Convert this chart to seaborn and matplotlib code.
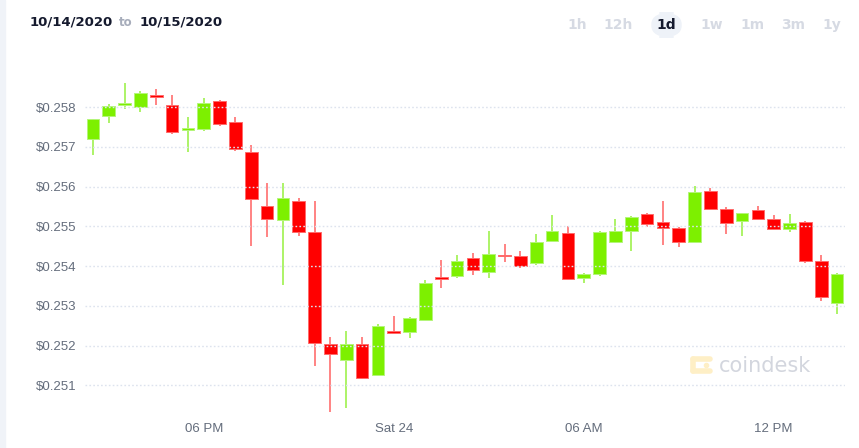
import numpy as np
import pandas as pd
import seaborn as sns
import matplotlib.pyplot as plt
from matplotlib.patches import FancyBboxPatch, Rectangle
from matplotlib.lines import Line2D

# 30-minute candles
opens = [0.25719, 0.25779, 0.25805, 0.25801, 0.25831, 0.25806, 0.25743, 0.25744,
         0.25816, 0.25762, 0.25688, 0.25551, 0.25516, 0.25565, 0.25487, 0.25204,
         0.25164, 0.25204, 0.25126, 0.25238, 0.25234, 0.25265, 0.25371, 0.25375,
         0.25421, 0.25385, 0.25429, 0.25426, 0.25407, 0.25464, 0.25484, 0.25370,
         0.25381, 0.25462, 0.25489, 0.25531, 0.25510, 0.25495, 0.25460, 0.25589,
         0.25543, 0.25514, 0.25541, 0.25520, 0.25494, 0.25512, 0.25412, 0.25308]
closes = [0.25770, 0.25804, 0.25810, 0.25836, 0.25826, 0.25738, 0.25745, 0.25811,
          0.25757, 0.25694, 0.25569, 0.25518, 0.25571, 0.25485, 0.25206, 0.25178,
          0.25204, 0.25118, 0.25250, 0.25233, 0.25269, 0.25357, 0.25369, 0.25414,
          0.25391, 0.25431, 0.25425, 0.25401, 0.25460, 0.25488, 0.25367, 0.25380,
          0.25485, 0.25488, 0.25523, 0.25507, 0.25495, 0.25460, 0.25587, 0.25545,
          0.25508, 0.25533, 0.25518, 0.25494, 0.25508, 0.25413, 0.25323, 0.25380]
highs = [0.25770, 0.25809, 0.25862, 0.25841, 0.25845, 0.25831, 0.25775, 0.25822,
         0.25819, 0.25775, 0.25704, 0.25609, 0.25609, 0.25571, 0.25565, 0.25221,
         0.25238, 0.25223, 0.25254, 0.25275, 0.25273, 0.25365, 0.25416, 0.25428,
         0.25434, 0.25489, 0.25457, 0.25438, 0.25482, 0.25529, 0.25501, 0.25384,
         0.25489, 0.25519, 0.25527, 0.25535, 0.25564, 0.25499, 0.25602, 0.25596,
         0.25549, 0.25533, 0.25551, 0.25529, 0.25531, 0.25514, 0.25427, 0.25382]
lows = [0.25681, 0.25761, 0.25795, 0.25789, 0.25805, 0.25732, 0.25687, 0.25740,
        0.25753, 0.25691, 0.25452, 0.25473, 0.25352, 0.25477, 0.25150, 0.25032,
        0.25044, 0.25116, 0.25126, 0.25229, 0.25219, 0.25265, 0.25344, 0.25370,
        0.25379, 0.25371, 0.25411, 0.25396, 0.25404, 0.25464, 0.25365, 0.25357,
        0.25375, 0.25458, 0.25439, 0.25498, 0.25454, 0.25449, 0.25460, 0.25542,
        0.25481, 0.25476, 0.25516, 0.25494, 0.25487, 0.25409, 0.25313, 0.25279]

y_ticks = [0.251, 0.252, 0.253, 0.254, 0.255, 0.256, 0.257, 0.258]
x_tick_pos = [7, 19, 31, 43]
x_tick_labels = ["06 PM", "Sat 24", "06 AM", "12 PM"]
ranges = ["1h", "12h", "1d", "1w", "1m", "3m", "1y"]

df = pd.DataFrame({"open": opens, "close": closes, "high": highs, "low": lows})
df["up"] = df["close"] >= df["open"]

sns.set_style("white")
plt.rcParams["font.family"] = ["DejaVu Sans"]

GREEN = "#7df000"
RED = "#ff0000"
GRID = "#dde3ee"
LABEL = "#646d7c"

fig = plt.figure(figsize=(8.59, 4.48), dpi=100)
ax = fig.add_axes([85 / 859, 36 / 448, 760 / 859, 342 / 448])

x = np.arange(len(df))
body_lo = np.minimum(df["open"], df["close"])
body_h = np.maximum((df["close"] - df["open"]).abs(), 0.00004)
cols = np.where(df["up"], GREEN, RED)
wick_cols = np.where(df["up"], "#a6f25c", "#ff7a7a")

ax.vlines(x, df["low"], df["high"], colors=wick_cols, linewidth=1.3, zorder=2)
ax.bar(x, body_h, bottom=body_lo, width=0.8, color=cols,
       edgecolor=np.where(df["up"], "#b4f57a", "#ff6b6b"), linewidth=0.7, zorder=3)

ax.set_xlim(-0.5, 47.5)
ax.set_ylim(0.250332, 0.258936)
ax.set_yticks(y_ticks)
ax.set_yticklabels([f"${v:.3f}" for v in y_ticks], family="Liberation Sans")
ax.set_xticks(x_tick_pos)
ax.set_xticklabels(x_tick_labels, family="Liberation Sans")
ax.tick_params(axis="both", length=0, labelsize=9.5, labelcolor=LABEL)
ax.tick_params(axis="y", pad=6)
ax.tick_params(axis="x", pad=8)
for yv in y_ticks:
    ax.axhline(yv, color=GRID, linewidth=1.0, linestyle=(0, (1.2, 1.6)), zorder=4)
sns.despine(ax=ax, left=True, bottom=True)

# left strip
fig.patches.append(Rectangle((0, 0), 5 / 859, 1, transform=fig.transFigure,
                             color="#f0f3f8", zorder=0))

# header
fig.text(30 / 859, 1 - 22 / 448, "10/14/2020", fontsize=9.5, fontweight="bold",
         color="#151a2e", va="center")
fig.text(119 / 859, 1 - 23 / 448, "to", fontsize=8.5, fontweight="bold",
         color="#a7adbb", va="center")
fig.text(140 / 859, 1 - 22 / 448, "10/15/2020", fontsize=9.5, fontweight="bold",
         color="#151a2e", va="center")

btn_x = [577, 618, 666, 712, 752, 793, 832]
for bx, lab in zip(btn_x, ranges):
    if lab == "1d":
        fig.patches.append(FancyBboxPatch((652 / 859, 1 - 37 / 448), 29 / 859, 24 / 448,
                                          boxstyle="round,pad=0,rounding_size=0.025",
                                          transform=fig.transFigure, color="#eef2f8",
                                          zorder=1))
        fig.text(bx / 859, 1 - 25 / 448, lab, fontsize=10, fontweight="bold",
                 color="#151a2e", ha="center", va="center", zorder=2)
    else:
        fig.text(bx / 859, 1 - 25 / 448, lab, fontsize=10, fontweight="bold",
                 color="#d6dae3", ha="center", va="center")

# watermark icon: a dotted bracket
icon = "#feefc6"
segs = [((710, 359), (693, 359)), ((693, 359), (693, 371)), ((693, 371), (710, 371))]
for (x0, y0), (x1, y1) in segs:
    fig.lines.append(Line2D([x0 / 859, x1 / 859], [1 - y0 / 448, 1 - y1 / 448],
                            transform=fig.transFigure, color=icon, linewidth=4,
                            solid_capstyle="round", zorder=1))
fig.lines.append(Line2D([706 / 859], [1 - 365 / 448], transform=fig.transFigure,
                        marker="o", markersize=3, color=icon, zorder=1))
fig.text(719 / 859, 1 - 366 / 448, "coindesk", fontsize=15, color="#d3d6de",
         va="center")

fig.savefig("out.png", dpi=100)
